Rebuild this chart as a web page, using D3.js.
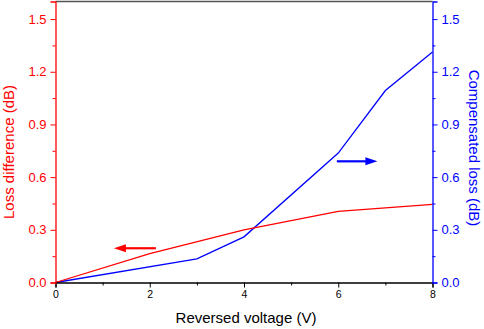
<!DOCTYPE html>
<html><head><meta charset="utf-8">
<script src="https://cdn.jsdelivr.net/npm/d3@7"></script>
<style>body{margin:0;background:#fff}svg{display:block;font-family:"Liberation Sans",Arial,sans-serif}</style>
</head><body><svg id="c" width="484" height="329"></svg>
<script>
const lossVoltage = [0, 2, 4, 6, 8];
const lossDifference = [0, 0.165, 0.30, 0.405, 0.445];
const compVoltage = [0, 3, 4, 6, 7, 8];
const compensatedLoss = [0, 0.135, 0.26, 0.737, 1.093, 1.312];
const xTicks = [0, 2, 4, 6, 8];
const yTicks = [0, 0.3, 0.6, 0.9, 1.2, 1.5];
const redArrow = {x1: 2.13, x2: 1.24, y: 0.195};
const blueArrow = {x1: 5.97, x2: 6.83, y: 0.69};

const svg = d3.select("#c");
const L = 55.5, R = 432.5, T = 1.5, B = 282.5;
const x = d3.scaleLinear().domain([0, 8]).range([L, R]);
const yL = d3.scaleLinear().domain([0, 1.6]).range([B, T]);
const yR = d3.scaleLinear().domain([0, 1.6]).range([B, T]);
const RED = "#ff0000", BLUE = "#0000ff";

// top border
svg.append("line").attr("x1", L).attr("x2", R).attr("y1", T).attr("y2", T)
  .attr("stroke", "#555").attr("stroke-width", 1.6);

// lines
const lineL = d3.line().x((d, i) => x(lossVoltage[i])).y(d => yL(d));
const lineR = d3.line().x((d, i) => x(compVoltage[i])).y(d => yR(d));
svg.append("path").attr("d", lineR(compensatedLoss)).attr("fill", "none").attr("stroke", BLUE).attr("stroke-width", 1.3);
svg.append("path").attr("d", lineL(lossDifference)).attr("fill", "none").attr("stroke", RED).attr("stroke-width", 1.3);

// x axis
const xAxis = svg.append("g").attr("transform", `translate(0,${B})`)
  .call(d3.axisBottom(x).tickValues(xTicks).tickFormat(d3.format("d")).tickSize(5).tickPadding(3));
xAxis.select(".domain").attr("stroke", "#000").attr("stroke-width", 1.3);
xAxis.selectAll("text").attr("font-size", 10.5).attr("fill", "#000").attr("font-family", "Liberation Sans, Arial");
const xMinor = svg.append("g").attr("transform", `translate(0,${B})`)
  .call(d3.axisBottom(x).tickValues([1, 3, 5, 7]).tickFormat("").tickSize(3));
xMinor.select(".domain").remove();

// left axis
const yAxisL = svg.append("g").attr("transform", `translate(${L},0)`)
  .call(d3.axisLeft(yL).tickValues(yTicks).tickFormat(d3.format(".1f")).tickSize(5).tickPadding(4));
yAxisL.select(".domain").attr("stroke", RED).attr("stroke-width", 1.3);
yAxisL.selectAll("line").attr("stroke", RED);
yAxisL.selectAll("text").attr("font-size", 13).attr("fill", RED).attr("font-family", "Liberation Sans, Arial");
const yMinL = svg.append("g").attr("transform", `translate(${L},0)`)
  .call(d3.axisLeft(yL).tickValues([0.15, 0.45, 0.75, 1.05, 1.35]).tickFormat("").tickSize(3));
yMinL.select(".domain").remove();
yMinL.selectAll("line").attr("stroke", RED);

// right axis
const yAxisR = svg.append("g").attr("transform", `translate(${R},0)`)
  .call(d3.axisRight(yR).tickValues(yTicks).tickFormat(d3.format(".1f")).tickSize(5).tickPadding(4));
yAxisR.select(".domain").attr("stroke", BLUE).attr("stroke-width", 1.3);
yAxisR.selectAll("line").attr("stroke", BLUE);
yAxisR.selectAll("text").attr("font-size", 13).attr("fill", BLUE).attr("font-family", "Liberation Sans, Arial");
const yMinR = svg.append("g").attr("transform", `translate(${R},0)`)
  .call(d3.axisRight(yR).tickValues([0.15, 0.45, 0.75, 1.05, 1.35]).tickFormat("").tickSize(3));
yMinR.select(".domain").remove();
yMinR.selectAll("line").attr("stroke", BLUE);

// axis titles
svg.append("text").attr("x", (L + R) / 2 + 2).attr("y", 323).attr("text-anchor", "middle")
  .attr("font-size", 15).attr("fill", "#000").text("Reversed voltage (V)");
svg.append("text").attr("transform", "translate(14,152) rotate(-90)").attr("text-anchor", "middle")
  .attr("font-size", 15).attr("fill", RED).text("Loss difference (dB)");
svg.append("text").attr("transform", "translate(469,148) rotate(90)").attr("text-anchor", "middle")
  .attr("font-size", 15).attr("fill", BLUE).text("Compensated loss (dB)");

// arrows
function arrow(a, scaleY, color) {
  const xs = x(a.x1), xe = x(a.x2), yy = scaleY(a.y);
  const dir = Math.sign(xe - xs), head = 12, hw = 4;
  svg.append("line").attr("x1", xs).attr("x2", xe - dir * head + dir).attr("y1", yy).attr("y2", yy)
    .attr("stroke", color).attr("stroke-width", 2.2);
  svg.append("path").attr("d", `M${xe},${yy}L${xe - dir * head},${yy - hw}L${xe - dir * head},${yy + hw}Z`)
    .attr("fill", color);
}
arrow(redArrow, yL, RED);
arrow(blueArrow, yR, BLUE);
</script></body></html>
